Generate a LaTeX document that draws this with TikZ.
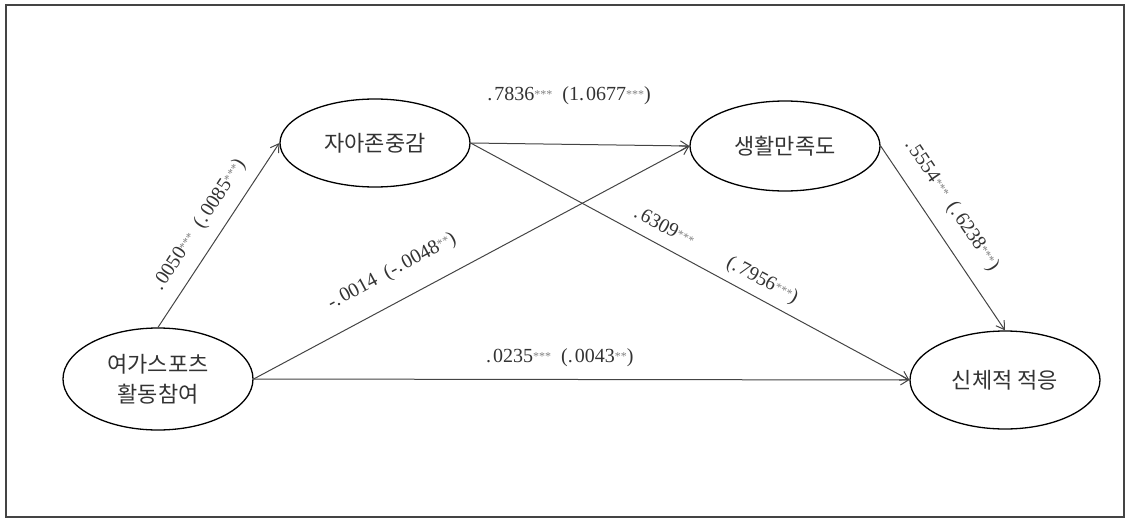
\documentclass[tikz,border=0pt]{standalone}
\usepackage{fontspec}
\setmainfont{Liberation Serif}
\newfontfamily\kr{Noto Sans CJK KR}
\usetikzlibrary{shapes.geometric,arrows.meta}
\definecolor{ink}{HTML}{333333}
\definecolor{linec}{HTML}{444444}
\newcommand{\st}[1]{\raisebox{2.5pt}{\fontsize{12}{12}\selectfont\color{gray}#1}}
\newcommand{\pd}{.\kern2pt}
\tikzset{
  var/.style={ellipse, draw=black, line width=1.3pt, minimum width=190pt, inner sep=0pt,
    font=\kr\fontsize{22}{30}\selectfont, text=ink, align=center},
  path/.style={draw=linec, line width=1pt, -{Straight Barb[length=8pt,width=10pt]}},
  coef/.style={font=\fontsize{20}{22}\selectfont, text=ink, inner sep=0pt}
}
\begin{document}
\begin{tikzpicture}[x=1pt,y=-1pt]
\useasboundingbox (0,0) rectangle (1126,519);
\draw[draw=linec, line width=1.3pt] (6,5) rectangle (1124,517);
\node[var, minimum height=102pt] (p) at (158,379) {여가스포츠\\활동참여};
\node[var, minimum height=88pt] (s) at (375,143) {자아존중감};
\node[var, minimum height=90pt] (m) at (785,146) {생활만족도};
\node[var, minimum height=98pt] (a) at (1005,380) {신체적 적응};
\draw[path] (p.north) -- node[coef, sloped, pos=0.49, above=12pt] {\pd0050\st{***}\ \ (\pd0085\st{***})} (s.west);
\draw[path] (s.east) -- node[coef, pos=0.45, above=39pt] {\pd7836\st{***}\ \ (1\pd0677\st{***})} (m.west);
\draw[path] (p.east) -- node[coef, sloped, pos=0.35, above=20pt] {-\pd0014\ \ (-\pd0048\st{**})} (m.west);
\draw[path] (s.east) -- node[coef, sloped, pos=0.54, above=8pt] {\pd6309\st{***}\qquad(\pd7956\st{***})} (a.west);
\draw[path] (m.east) -- node[coef, sloped, pos=0.40, above=16pt] {\pd5554\st{***}\ \ (\pd6238\st{***})} (a.north);
\draw[path] (p.east) -- node[coef, pos=0.467, above=12pt] {\pd0235\st{***}\ \ (\pd0043\st{**})} (a.west);
\end{tikzpicture}
\end{document}
